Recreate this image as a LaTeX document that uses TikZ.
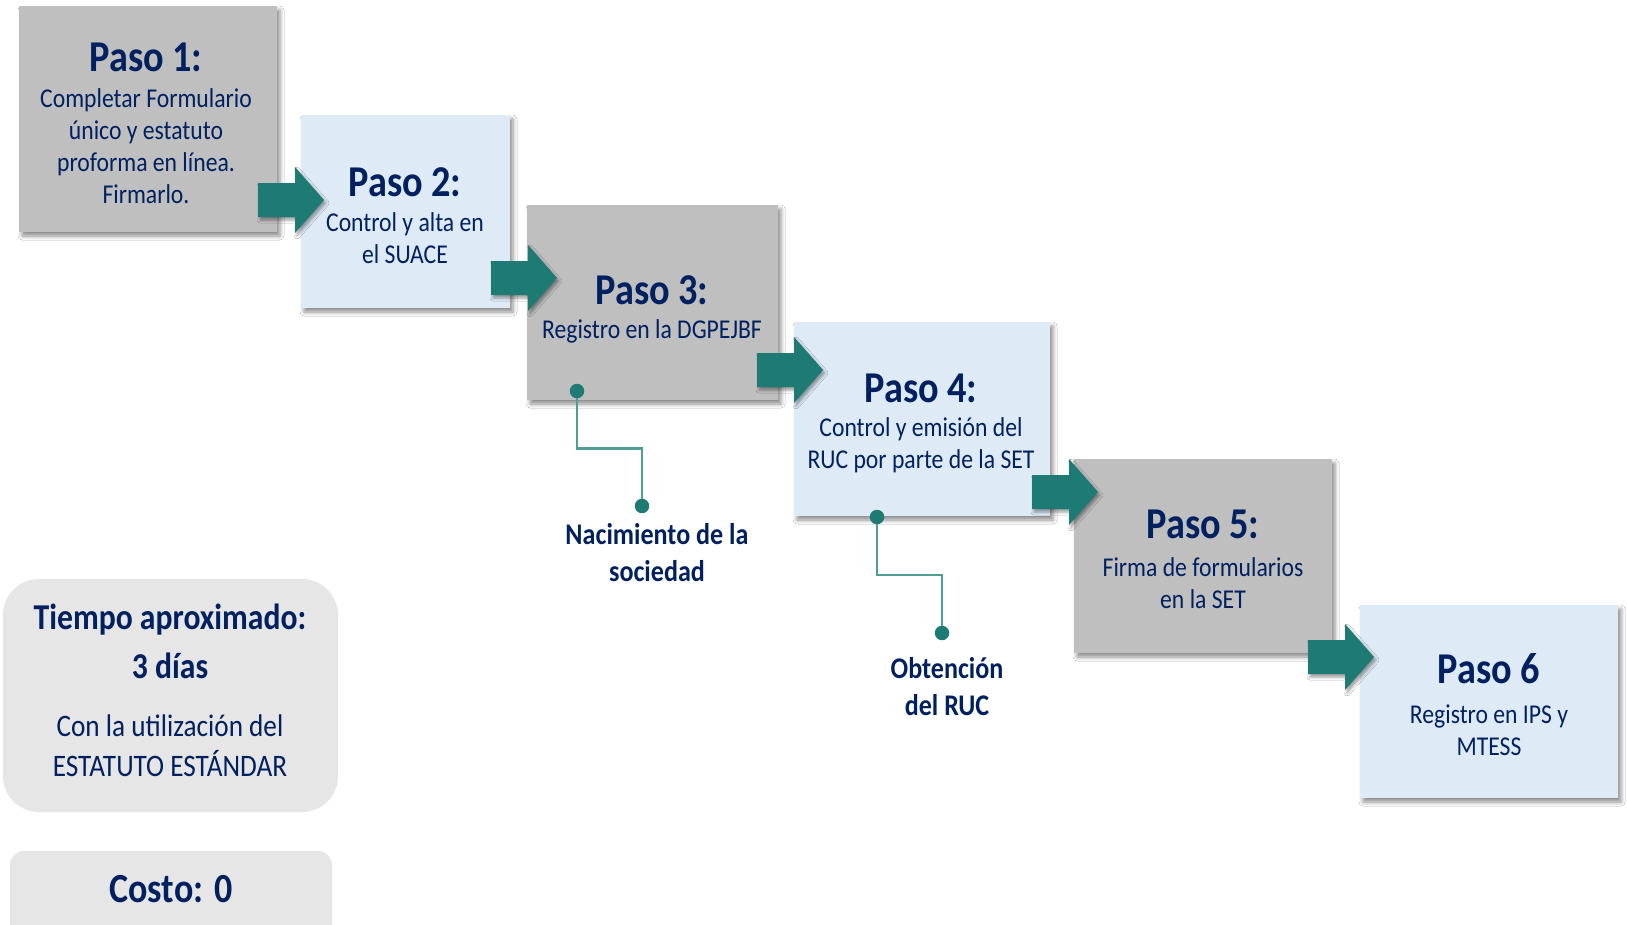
\documentclass[tikz,border=0pt]{standalone}
\usepackage{fontspec}
\setmainfont{Carlito}[FakeStretch=0.87]
\usetikzlibrary{shadows.blur,calc}
\definecolor{navy}{HTML}{002060}
\definecolor{boxgray}{HTML}{BFBFBF}
\definecolor{boxblue}{HTML}{DEEBF7}
\definecolor{arrowteal}{HTML}{1E7B74}
\definecolor{lineteal}{HTML}{4E9E96}
\definecolor{infogray}{HTML}{E6E6E6}
\tikzset{
  stepbox/.style={inner sep=0pt, blur shadow={shadow xshift=3pt, shadow yshift=-4pt, shadow blur radius=4pt, shadow opacity=45}},
  graybox/.style={stepbox, fill=boxgray},
  bluebox/.style={stepbox, fill=boxblue},
  steptitle/.style={text=navy, inner sep=0pt, font=\bfseries\fontsize{44}{50}\selectfont},
  stepbody/.style={text=navy, inner sep=0pt, align=center, font=\fontsize{27.2}{32}\selectfont},
  milestone/.style={text=navy, inner sep=0pt, align=center, font=\bfseries\fontsize{30}{37}\selectfont},
  dotnode/.style={circle, fill=arrowteal, inner sep=0pt, minimum size=14.5pt},
  conn/.style={draw=lineteal, line width=2.5pt},
  infobox/.style={fill=infogray},
  infobold/.style={text=navy, inner sep=0pt, font=\bfseries\fontsize{36.4}{46}\selectfont},
  inforeg/.style={text=navy, inner sep=0pt, align=center, font=\fontsize{31.3}{40}\selectfont},
  flowarrow/.pic={\fill[arrowteal, blur shadow={shadow xshift=2pt, shadow yshift=-3pt, shadow blur radius=3pt, shadow opacity=40}]
     (-66,-17) -- (-29,-17) -- (-29,-33) -- (0,0) -- (-29,33) -- (-29,17) -- (-66,17) -- cycle;}
}
\begin{document}
\begin{tikzpicture}[x=1pt,y=-1pt]
\useasboundingbox[fill=white] (0,0) rectangle (1627,924);
% step boxes
\node[graybox, minimum width=258pt, minimum height=226pt] (b1) at (148,119) {};
\node[bluebox, minimum width=209pt, minimum height=193pt] (b2) at (405.5,211.5) {};
\node[graybox, minimum width=251pt, minimum height=195pt] (b3) at (652.5,302.5) {};
\node[bluebox, minimum width=256pt, minimum height=194pt] (b4) at (922,419) {};
\node[graybox, minimum width=258pt, minimum height=194pt] (b5) at (1203,556) {};
\node[bluebox, minimum width=258pt, minimum height=193pt] (b6) at (1489,701.5) {};
% arrows between boxes
\pic at (324,200) {flowarrow};
\pic at (557,278) {flowarrow};
\pic at (823,370) {flowarrow};
\pic at (1098,492) {flowarrow};
\pic at (1374,657) {flowarrow};
% texts
\node[steptitle] (t1) at (146,57) {Paso 1:};
\node[stepbody] (x1) at (146,146) {Completar Formulario\\único y estatuto\\proforma en línea.\\Firmarlo.};
\node[steptitle] (t2) at (405,182) {Paso 2:};
\node[stepbody] (x2) at (405,238) {Control y alta en\\el SUACE};
\node[steptitle] (t3) at (652,290.5) {Paso 3:};
\node[stepbody] (x3) at (652,331) {Registro en la DGPEJBF};
\node[steptitle] (t4) at (921,388) {Paso 4:};
\node[stepbody] (x4) at (921,445) {Control y emisión del\\RUC por parte de la SET};
\node[steptitle] (t5) at (1203,524) {Paso 5:};
\node[stepbody] (x5) at (1203,583) {Firma de formularios\\en la SET};
\node[steptitle] (t6) at (1489,669) {Paso 6};
\node[stepbody] (x6) at (1489,730.5) {Registro en IPS y\\MTESS};
% milestone connectors
\coordinate (d1) at (577,391);
\coordinate (d2) at (642,506);
\coordinate (d3) at (877,517);
\coordinate (d4) at (942,633);
\draw[conn] (d1) |- ($(d1)!0.5!(d2)$) -| (d2);
\draw[conn] (d3) |- ($(d3)!0.5!(d4)$) -| (d4);
\node[dotnode] (e1) at (d1) {};
\node[dotnode] (e2) at (d2) {};
\node[dotnode] (e3) at (d3) {};
\node[dotnode] (e4) at (d4) {};
\node[milestone] (m1) at (657,553) {Nacimiento de la\\sociedad};
\node[milestone] (m2) at (947,687) {Obtención\\del RUC};
% info boxes
\fill[infobox, rounded corners=36pt] (3,579) rectangle (338,812);
\fill[infobox, rounded corners=14pt] (10,851) rectangle (332,950);
\node[infobold] (i1) at (170,620) {Tiempo aproximado:};
\node[infobold] (i2) at (170,666) {3 días};
\node[inforeg] (i3) at (170,746) {Con la utilización del\\ESTATUTO ESTÁNDAR};
\node[infobold, font=\bfseries\fontsize{41.4}{48}\selectfont] (i4) at (171,889) {Costo: 0};
\end{tikzpicture}
\end{document}
